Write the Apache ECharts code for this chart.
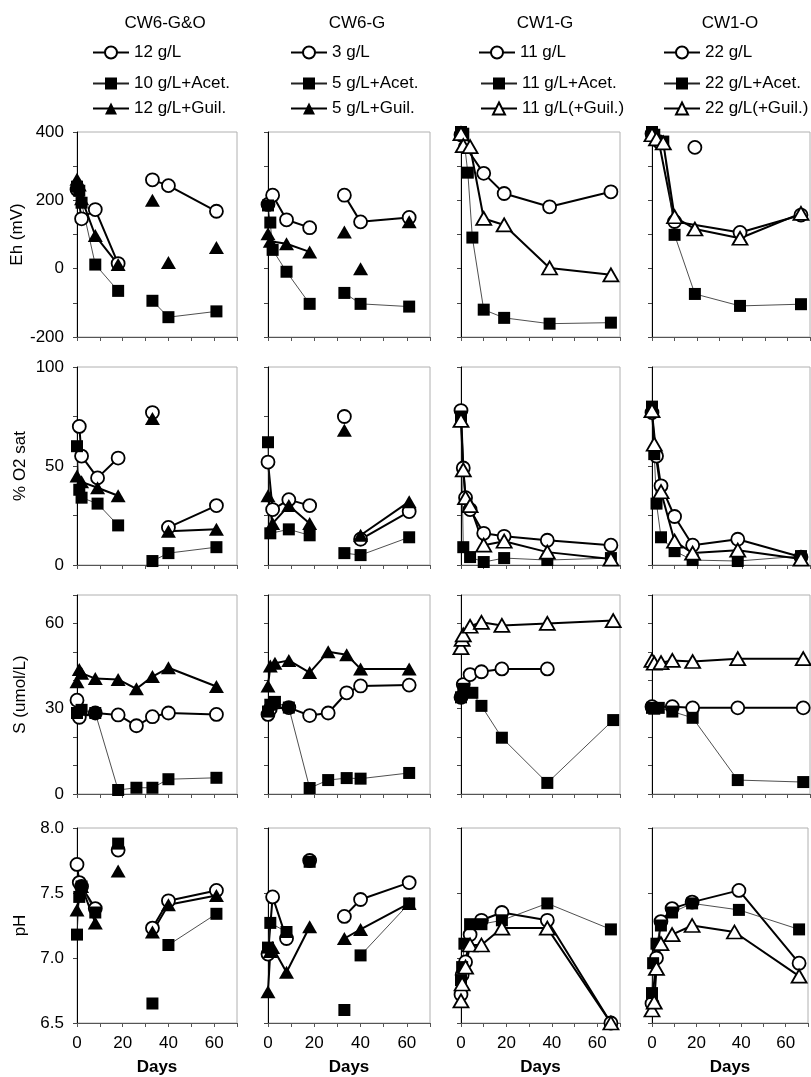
<!DOCTYPE html>
<html>
<head>
<meta charset="utf-8">
<script src="https://cdn.jsdelivr.net/npm/echarts@6/dist/echarts.min.js"></script>
<style>
html, body { margin: 0; padding: 0; background: #fff; }
#chart { width: 811px; height: 1077px; }
</style>
</head>
<body>
<div id="chart"></div>
<script>
// columns = reactors, rows = measured parameter
const columns = ['CW6-G&O', 'CW6-G', 'CW1-G', 'CW1-O'];
const legendNames = [
  ['12 g/L', '10 g/L+Acet.', '12 g/L+Guil.'],
  ['3 g/L', '5 g/L+Acet.', '5 g/L+Guil.'],
  ['11 g/L', '11 g/L+Acet.', '11 g/L(+Guil.)'],
  ['22 g/L', '22 g/L+Acet.', '22 g/L(+Guil.)']
];
const rowNames = ['Eh (mV)', '% O2 sat', 'S (umol/L)', 'pH'];
const dayLabels = [0, 20, 40, 60];

// [day, value]; null = gap in the line
// Eh (mV)
const ehC1circ = [[0,232],[2,146],[8,173],[18,15],null,[33,260],[40,243],[61,168]];
const ehC1sq   = [[0,240],[1,228],[2,193],[8,12],[18,-65],null,[33,-94],[40,-142],[61,-125]];
const ehC1tri  = [[0,262],[1,245],[2,205],[8,97],[18,12],null,[33,200],null,[40,18],null,[61,62]];
const ehC2circ = [[0,188],[2,215],[8,143],[18,120],null,[33,215],[40,137],[61,150]];
const ehC2sq   = [[0,185],[1,135],[2,55],[8,-9],[18,-103],null,[33,-71],[40,-103],[61,-111]];
const ehC2tri  = [[0,102],[1,80],[8,73],[18,49],null,[33,107],null,[40,0],null,[61,137]];
const ehC3circ = [[0,392],[2,357],[10,279],[19,220],[39,181],[66,225]];
const ehC3sq   = [[0,400],[1,395],[3,281],[5,91],[10,-120],[19,-144],[39,-161],[66,-158]];
const ehC3tri  = [[0,395],[1,360],[4,357],[10,147],[19,128],[39,2],[66,-18]];
const ehC4circ = [[0,395],[3,372],[10,138],[39,106],[66,157],null,[19,355]];
const ehC4sq   = [[0,400],[1,392],[5,372],[10,99],[19,-74],[39,-109],[66,-104]];
const ehC4tri  = [[0,392],[2,380],[5,368],[10,152],[19,116],[39,89],[66,162]];

// % O2 saturation
const o2C1circ = [[1,70],[2,55],[9,44],[18,54],null,[33,77],null,[40,19],[61,30]];
const o2C1sq   = [[0,60],[1,38],[2,34],[9,31],[18,20],null,[33,2],[40,6],[61,9]];
const o2C1tri  = [[0,45],[2,42],[9,39],[18,35],null,[33,74],null,[40,17],[61,18]];
const o2C2circ = [[0,52],[2,28],[9,33],[18,30],null,[33,75],null,[40,13],[61,27]];
const o2C2sq   = [[0,62],[1,16],[9,18],[18,15],null,[33,6],[40,5],[61,14]];
const o2C2tri  = [[0,35],[2,21],[9,30],[18,21],null,[33,68],null,[40,15],[61,32]];
const o2C3circ = [[0,78],[1,49],[2,34],[4,28],[10,16],[19,14.5],[38,12.5],[66,10]];
const o2C3sq   = [[0,75],[1,9],[4,4],[10,1.5],[19,3.5],[38,2.5],[66,3.5]];
const o2C3tri  = [[0,73],[1,48],[2,34],[4,30],[10,10],[19,12],[38,6.5],[66,3]];
const o2C4circ = [[0,77],[2,55],[4,40],[10,24.5],[18,10],[38,13],[66,4]];
const o2C4sq   = [[0,80],[1,56],[2,31],[4,14],[10,7],[18,2.5],[38,2],[66,4.5]];
const o2C4tri  = [[0,78],[1,61],[4,37],[10,12],[18,6],[38,7.5],[66,3]];

// S (umol/L)
const sC1circ = [[0,33],[1,27],[8,28.5],[18,27.8],[26,24],[33,27.2],[40,28.5],[61,28]];
const sC1sq   = [[0,28.5],[2,29.6],[8,28.5],[18,1.4],[26,2.2],[33,2.2],[40,5.2],[61,5.7]];
const sC1tri  = [[0,39.5],[1,43.8],[2,42.5],[8,40.6],[18,40.3],[26,37],[33,41.3],[40,44.4],[61,37.8]];
const sC2circ = [[0,28],[1,30],[9,30.4],[18,27.6],[26,28.5],[34,35.6],[40,38],[61,38.3]];
const sC2sq   = [[0,29],[1,31.4],[3,32.4],[9,30.4],[18,2.1],[26,4.9],[34,5.6],[40,5.4],[61,7.4]];
const sC2tri  = [[0,38],[1,45],[3,46],[9,47],[18,42.7],[26,50],[34,49],[40,44],[61,44]];
const sC3circ = [[0,34],[1,38.5],[4,42],[9,43],[18,44],[38,44]];
const sC3sq   = [[0,34],[1,37],[5,35.6],[9,31],[18,19.8],[38,3.9],[67,26]];
const sC3tri  = [[0,51.5],[0.5,54.4],[1,56],[4,59],[9,60.4],[18,59.3],[38,60],[67,61]];
const sC4circ = [[0,30.7],[9,30.7],[18,30.3],[38,30.3],[67,30.3]];
const sC4sq   = [[0,30.3],[1,30],[3,30.3],[9,29],[18,26.8],[38,4.9],[67,4.2]];
const sC4tri  = [[0,47],[1,46],[4,46.2],[9,47],[18,46.6],[38,47.6],[67,47.6]];

// pH
const phC1circ = [[0,7.72],[1,7.58],[2,7.55],[8,7.38],null,[18,7.83],null,[33,7.23],[40,7.44],[61,7.52]];
const phC1sq   = [[0,7.18],[1,7.47],[2,7.55],[8,7.35],null,[18,7.88],null,[33,6.65],null,[40,7.1],[61,7.34]];
const phC1tri  = [[0,7.37],[2,7.55],[8,7.27],null,[18,7.67],null,[33,7.2],[40,7.41],[61,7.48]];
const phC2circ = [[0,7.03],[2,7.47],[8,7.15],null,[18,7.75],null,[33,7.32],[40,7.45],[61,7.58]];
const phC2sq   = [[0,7.08],[1,7.27],[8,7.2],null,[18,7.74],null,[33,6.6],null,[40,7.02],[61,7.42]];
const phC2tri  = [[0,6.74],[1,7.05],[2,7.08],[8,6.89],[18,7.24],null,[33,7.15],[40,7.22],[61,7.42]];
const phC3circ = [[0,6.72],[0.5,6.87],[2,6.97],[4,7.18],[9,7.29],[18,7.35],[38,7.29],[66,6.5]];
const phC3sq   = [[0,6.83],[0.5,6.93],[1.5,7.11],[4,7.26],[9,7.26],[18,7.29],[38,7.42],[66,7.22]];
const phC3tri  = [[0,6.67],[0.5,6.8],[2,6.93],[4,7.1],[9,7.1],[18,7.23],[38,7.23],[66,6.5]];
const phC4circ = [[0,6.65],[2,7.0],[4,7.28],[9,7.38],[18,7.43],[39,7.52],[66,6.96]];
const phC4sq   = [[0,6.73],[0.5,6.96],[2,7.11],[4,7.25],[9,7.35],[18,7.42],[39,7.37],[66,7.22]];
const phC4tri  = [[0,6.6],[1,6.66],[2,6.92],[4,7.11],[9,7.18],[18,7.25],[37,7.2],[66,6.86]];

const panels = [
  [[ehC1circ, ehC1sq, ehC1tri], [ehC2circ, ehC2sq, ehC2tri], [ehC3circ, ehC3sq, ehC3tri], [ehC4circ, ehC4sq, ehC4tri]],
  [[o2C1circ, o2C1sq, o2C1tri], [o2C2circ, o2C2sq, o2C2tri], [o2C3circ, o2C3sq, o2C3tri], [o2C4circ, o2C4sq, o2C4tri]],
  [[sC1circ, sC1sq, sC1tri], [sC2circ, sC2sq, sC2tri], [sC3circ, sC3sq, sC3tri], [sC4circ, sC4sq, sC4tri]],
  [[phC1circ, phC1sq, phC1tri], [phC2circ, phC2sq, phC2tri], [phC3circ, phC3sq, phC3tri], [phC4circ, phC4sq, phC4tri]]
];

const FONT = 'Liberation Sans, Arial, sans-serif';
const colLeft = [77, 268, 461, 652];
const colWidth = [160, 162, 159, 158];
const rowTop = [132, 367, 595, 828];
const rowHeight = [205, 198, 199, 195];
const yAxes = [
  { min: -200, max: 400, interval: 100, fmt: v => (v % 200 === 0 ? String(v) : '') },
  { min: 0, max: 100, interval: 25, fmt: v => (v % 50 === 0 ? String(v) : '') },
  { min: 0, max: 70, interval: 10, fmt: v => (v % 30 === 0 ? String(v) : '') },
  { min: 6.5, max: 8, interval: 0.5, fmt: v => v.toFixed(1) }
];

const grid = [], xAxis = [], yAxis = [], series = [];

function toData(arr) {
  return arr.map(p => (p === null ? ['-', '-'] : p));
}

for (let r = 0; r < 4; r++) {
  for (let c = 0; c < 4; c++) {
    const gi = grid.length;
    grid.push({
      left: colLeft[c], top: rowTop[r], width: colWidth[c], height: rowHeight[r],
      show: true, borderColor: '#b0b0b0', borderWidth: 1, backgroundColor: 'transparent'
    });
    const bottomRow = r === 3;
    xAxis.push({
      type: 'value', gridIndex: gi, min: 0, max: 70, interval: 10,
      axisLine: { show: true, onZero: false, lineStyle: { color: '#555', width: 1 } },
      axisTick: { show: true, length: 4, lineStyle: { color: '#555' } },
      splitLine: { show: false },
      axisLabel: {
        show: bottomRow, margin: 12, color: '#000', fontSize: 17, fontFamily: FONT,
        formatter: v => (dayLabels.indexOf(v) >= 0 ? String(v) : '')
      },
      name: bottomRow ? 'Days' : '', nameLocation: 'middle', nameGap: 36,
      nameTextStyle: { color: '#000', fontSize: 17, fontWeight: 'bold', fontFamily: FONT }
    });
    const ya = yAxes[r];
    yAxis.push({
      type: 'value', gridIndex: gi, min: ya.min, max: ya.max, interval: ya.interval,
      axisLine: { show: true, onZero: false, lineStyle: { color: '#000', width: 1 } },
      axisTick: { show: true, length: 4, lineStyle: { color: '#444' } },
      splitLine: { show: false },
      axisLabel: { show: c === 0, margin: 13, color: '#000', fontSize: 17, fontFamily: FONT, formatter: ya.fmt },
      name: c === 0 ? rowNames[r] : '', nameLocation: 'middle', nameGap: 48,
      nameTextStyle: { color: '#000', fontSize: 17, fontFamily: FONT }
    });

    const openTri = c >= 2;
    const sets = panels[r][c];
    // open circle, thick line
    series.push({
      type: 'line', name: legendNames[c][0], xAxisIndex: gi, yAxisIndex: gi,
      data: toData(sets[0]), symbol: 'circle', symbolSize: 13, clip: false,
      itemStyle: { color: '#fff', borderColor: '#000', borderWidth: 1.8 },
      lineStyle: { color: '#000', width: 2 }, connectNulls: false
    });
    // filled square, thin line
    series.push({
      type: 'line', name: legendNames[c][1], xAxisIndex: gi, yAxisIndex: gi,
      data: toData(sets[1]), symbol: 'rect', symbolSize: 12, clip: false,
      itemStyle: { color: '#000' },
      lineStyle: { color: '#222', width: 0.8 }, connectNulls: false
    });
    // triangle, thick line
    series.push({
      type: 'line', name: legendNames[c][2], xAxisIndex: gi, yAxisIndex: gi,
      data: toData(sets[2]), symbol: 'triangle', symbolSize: [15, 13], clip: false,
      itemStyle: openTri ? { color: '#fff', borderColor: '#000', borderWidth: 1.8 } : { color: '#000' },
      lineStyle: { color: '#000', width: 2 }, connectNulls: false
    });
  }
}

const titleCenters = [160, 352, 540, 725];
const title = columns.map((t, c) => ({
  text: t, left: titleCenters[c], top: 10, textAlign: 'center',
  textStyle: { color: '#000', fontSize: 17, fontWeight: 'normal', fontFamily: FONT }
}));

const legendLeft1 = [87, 285, 473, 658];
const legendLeft2 = [87, 285, 475, 658];
const legendBase = {
  orient: 'vertical', selectedMode: false, itemWidth: 36, itemHeight: 15, itemGap: 8,
  textStyle: { color: '#000', fontSize: 17, lineHeight: 16, fontFamily: FONT }
};
const legend = [];
for (let c = 0; c < 4; c++) {
  legend.push(Object.assign({}, legendBase, { left: legendLeft1[c], top: 39, data: [legendNames[c][0]] }));
  legend.push(Object.assign({}, legendBase, { left: legendLeft2[c], top: 70, data: [legendNames[c][1], legendNames[c][2]] }));
}

const chart = echarts.init(document.getElementById('chart'), null, { renderer: 'canvas' });
chart.setOption({
  backgroundColor: '#fff',
  animation: false,
  title: title,
  legend: legend,
  grid: grid,
  xAxis: xAxis,
  yAxis: yAxis,
  series: series
});
</script>
</body>
</html>
